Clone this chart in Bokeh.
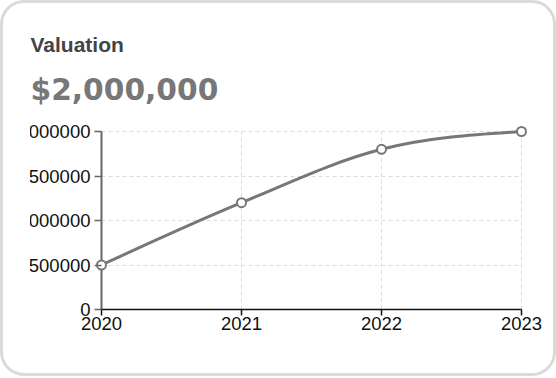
from bokeh.plotting import figure
from bokeh.models import Range1d, FixedTicker, ColumnDataSource, Grid, Title, InlineStyleSheet
from bokeh.layouts import column
from bokeh.embed import file_html
from bokeh.resources import INLINE

# ---- data ----
years = [2020, 2021, 2022, 2023]
valuation = [500000, 1200000, 1800000, 2000000]
y_ticks = [0, 500000, 1000000, 1500000, 2000000]
x_tick_labels = ["2020", "2021", "2022", "2023"]
y_tick_labels = ["0", "500000", "1000000", "1500000", "2000000"]
title_text = "Valuation"
headline_text = "$2,000,000"

# ---- monotone-x cubic (as d3.curveMonotoneX) computed from the data ----
def _sign(v):
    return -1 if v < 0 else 1

def monotone_beziers(xs, ys):
    n = len(xs)
    h = [xs[i + 1] - xs[i] for i in range(n - 1)]
    s = [(ys[i + 1] - ys[i]) / h[i] for i in range(n - 1)]
    t = [0.0] * n
    for i in range(1, n - 1):
        pp = (s[i - 1] * h[i] + s[i] * h[i - 1]) / (h[i - 1] + h[i])
        t[i] = (_sign(s[i - 1]) + _sign(s[i])) * min(abs(s[i - 1]), abs(s[i]), 0.5 * abs(pp))
    t[0] = (3 * s[0] - t[1]) / 2
    t[-1] = (3 * s[-1] - t[-2]) / 2
    seg = dict(x0=[], y0=[], x1=[], y1=[], cx0=[], cy0=[], cx1=[], cy1=[])
    for i in range(n - 1):
        dx = h[i] / 3
        seg["x0"].append(xs[i]); seg["y0"].append(ys[i])
        seg["x1"].append(xs[i + 1]); seg["y1"].append(ys[i + 1])
        seg["cx0"].append(xs[i] + dx); seg["cy0"].append(ys[i] + dx * t[i])
        seg["cx1"].append(xs[i + 1] - dx); seg["cy1"].append(ys[i + 1] - dx * t[i + 1])
    return seg

# ---- geometry ----
W, H = 534, 370
plot_w_px, plot_h_px = 420, 178
pad_px = 7
xmin, xmax = min(years), max(years)
ymin, ymax = min(y_ticks), max(y_ticks)
dx_pad = pad_px * (xmax - xmin) / plot_w_px
dy_pad = pad_px * (ymax - ymin) / plot_h_px
tick_font_size = "18.5px"

p = figure(width=W, height=H, output_backend="svg", toolbar_location=None,
           x_range=Range1d(xmin - dx_pad, xmax + dx_pad),
           y_range=Range1d(ymin, ymax + dy_pad),
           min_border_left=82, min_border_right=18, min_border_top=121, min_border_bottom=64,
           background_fill_color="white", border_fill_color="white",
           outline_line_color=None)

# titles (later one is placed further from the frame)
p.add_layout(Title(text=headline_text, align="left", offset=-64, standoff=36,
                   text_font="DejaVu Sans", text_font_style="bold",
                   text_font_size="29.7px", text_color="#777777"), "above")
p.add_layout(Title(text=title_text, align="left", offset=-64, standoff=-9,
                   text_font="Liberation Sans", text_font_style="bold",
                   text_font_size="21px", text_color="#444444"), "above")

# grids
p.xgrid.ticker = FixedTicker(ticks=years)
p.ygrid.ticker = FixedTicker(ticks=y_ticks)
for g in (p.xgrid, p.ygrid):
    g.grid_line_color = "#dcdcdc"
    g.grid_line_dash = "4 3"
    g.grid_line_width = 1
p.xgrid.bounds = (xmin, xmax)
p.ygrid.bounds = (ymin, ymax)
if "cross_bounds" in Grid.properties():
    p.xgrid.cross_bounds = (ymin, ymax)
    p.ygrid.cross_bounds = (xmin, xmax)

# x axis
xa = p.xaxis[0]
xa.ticker = FixedTicker(ticks=years)
xa.major_label_overrides = dict(zip(years, x_tick_labels))
xa.bounds = (xmin, xmax)
xa.axis_line_color = "#111111"
xa.axis_line_width = 1.5
xa.major_tick_line_color = "#111111"
xa.major_tick_line_width = 1.5
xa.major_tick_out = 6
xa.major_tick_in = 0
xa.minor_tick_out = 0
xa.minor_tick_in = 0
xa.major_label_standoff = 1
xa.major_label_text_font = "Liberation Sans"
xa.major_label_text_font_size = tick_font_size
xa.major_label_text_color = "#111111"

# y axis: labels and ticks from the axis, axis line drawn at the first year
ya = p.yaxis[0]
ya.ticker = FixedTicker(ticks=y_ticks)
ya.major_label_overrides = dict(zip(y_ticks, y_tick_labels))
ya.axis_line_color = None
ya.major_tick_line_color = "#666666"
ya.major_tick_line_width = 1.5
ya.major_tick_out = 0
ya.major_tick_in = pad_px
ya.minor_tick_out = 0
ya.minor_tick_in = 0
ya.major_label_standoff = 4
ya.major_label_text_font = "Liberation Sans"
ya.major_label_text_font_size = tick_font_size
ya.major_label_text_color = "#111111"

p.segment(x0=[xmin], y0=[ymin], x1=[xmin], y1=[ymax], line_color="#666666", line_width=2)

# line
seg = monotone_beziers(years, valuation)
p.bezier(x0="x0", y0="y0", x1="x1", y1="y1", cx0="cx0", cy0="cy0", cx1="cx1", cy1="cy1",
         source=ColumnDataSource(seg), line_color="#777777", line_width=3)
p.scatter(years, valuation, size=9, marker="circle", fill_color="white",
          line_color="#777777", line_width=2)

# the card clips the long y labels at its inner padding edge
p.margin = (0, 7, 0, -7)
p.stylesheets = [InlineStyleSheet(css=":host { clip-path: inset(0px 0px 0px 18px); }")]
inner = column(p, margin=(0, 0, 0, 16), styles={"overflow": "hidden"})
card = column(inner, styles={"border": "3px solid #dadada", "border-radius": "24px",
                             "background-color": "white", "overflow": "hidden"})

open("out.html", "w").write(file_html(card, INLINE))
